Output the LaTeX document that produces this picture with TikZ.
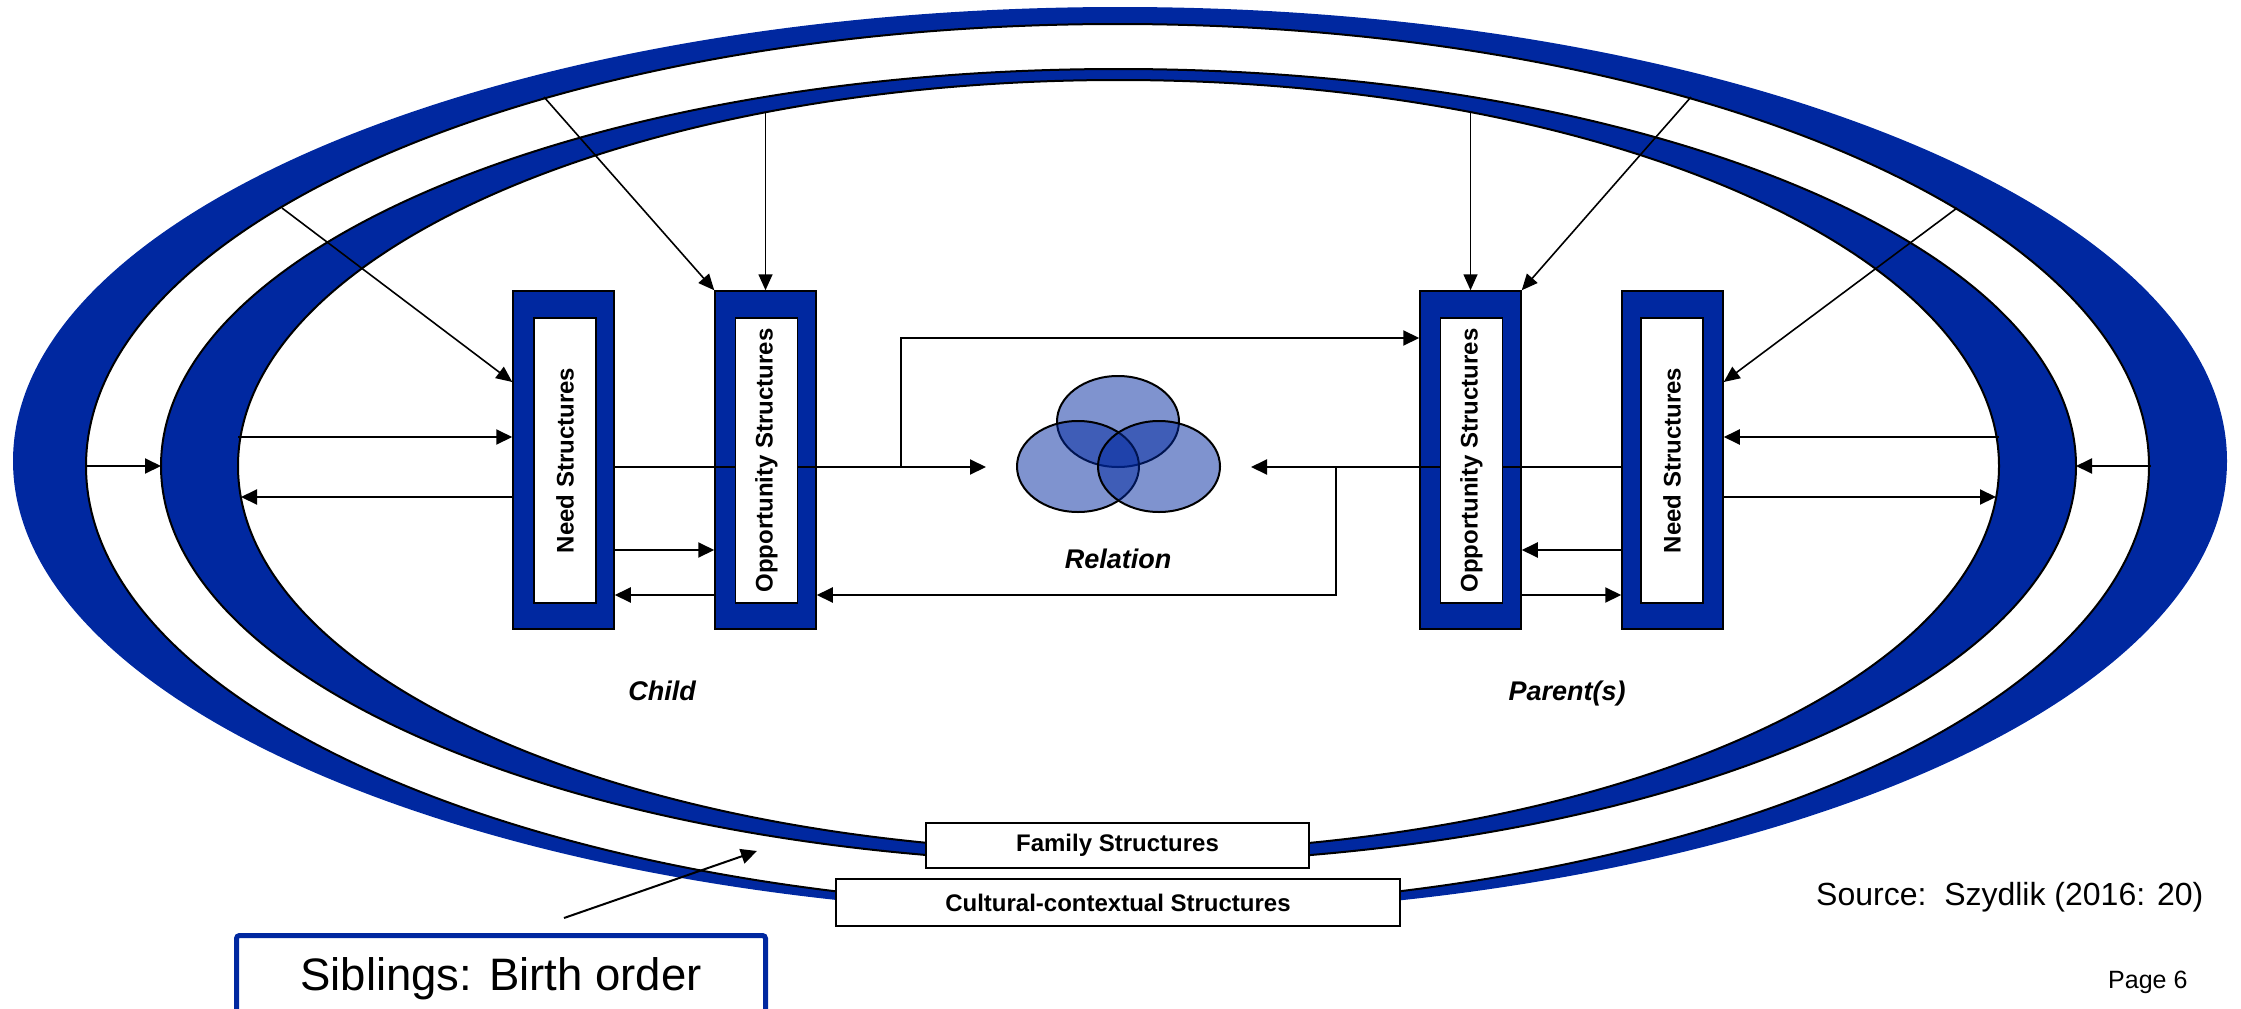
\documentclass[tikz,border=0pt]{standalone}
\usepackage{fontspec}
\setmainfont{Liberation Sans}
\usetikzlibrary{arrows.meta}
\definecolor{ringblue}{RGB}{0,40,160}
\begin{document}
\begin{tikzpicture}[x=1pt,y=-1pt,
  arr/.style={line width=2pt, -{Triangle[length=16pt,width=15pt]}},
  thinarr/.style={line width=1.6pt, -{Triangle[length=16pt,width=14pt]}},
  plainline/.style={line width=2pt},
  ring/.style={fill=ringblue, draw=black, line width=2pt},
  hole/.style={fill=white, draw=black, line width=2pt},
  outerbox/.style={rectangle, fill=ringblue, draw=black, line width=1.5pt, minimum width=101pt, minimum height=338pt, inner sep=0pt},
  innerbox/.style={rectangle, fill=white, draw=black, line width=1.5pt, rotate=90, minimum width=285pt, minimum height=62pt, inner sep=0pt, font=\fontsize{24}{26}\selectfont\bfseries},
  venn/.style={fill=ringblue, fill opacity=0.5, draw=black, draw opacity=1, line width=2pt},
  lbl/.style={font=\fontsize{27}{30}\selectfont\bfseries\itshape, inner sep=0pt, anchor=base},
  capbox/.style={rectangle, fill=white, draw=black, line width=2pt, inner sep=0pt, font=\fontsize{24}{26}\selectfont\bfseries}
]
\useasboundingbox (0,0) rectangle (2241,1009);
\clip (0,0) rectangle (2241,1009);

% rings
\fill[ringblue] (1120,461) ellipse [x radius=1107pt, y radius=454pt];
\draw[hole] (1117.5,466) ellipse [x radius=1031.5pt, y radius=442pt];
\draw[ring] (1118.5,466) ellipse [x radius=957.5pt, y radius=397pt];
\draw[hole] (1118.5,466) ellipse [x radius=880.5pt, y radius=386pt];

% helper coordinates
\coordinate (cultL) at (86,466);
\coordinate (famL) at (161,466);
\coordinate (cultR) at (2151,466);
\coordinate (famR) at (2076,466);
\coordinate (fiL1) at (238,437);
\coordinate (fiL2) at (241,497);
\coordinate (fiR1) at (1999,437);
\coordinate (fiR2) at (1996,497);
\coordinate (d1) at (282,208);
\coordinate (d2) at (544,97);
\coordinate (d3) at (765.5,112);
\coordinate (d4) at (1470.5,112);
\coordinate (d5) at (1691,97);
\coordinate (d6) at (1957,208);
\coordinate (h338) at (0,338);
\coordinate (h382) at (0,382);
\coordinate (h467) at (0,467);
\coordinate (h550) at (0,550);
\coordinate (h595) at (0,595);
\coordinate (relL) at (986,467);
\coordinate (relR) at (1251,467);
\coordinate (br1) at (901,467);
\coordinate (br2) at (1336,467);
\coordinate (sibA) at (564,918);
\coordinate (sibB) at (757,851);

% structure boxes (outer)
\node[outerbox] (cn) at (563.5,460) {};
\node[outerbox] (co) at (765.5,460) {};
\node[outerbox] (po) at (1470.5,460) {};
\node[outerbox] (pn) at (1672.5,460) {};

% ring arrows
\draw[arr] (cultL) -- (famL);
\draw[arr] (cultR) -- (famR);
\draw[arr] (fiL1) -- (cn.west |- fiL1);
\draw[arr] (cn.west |- fiL2) -- (fiL2);
\draw[arr] (fiR1) -- (pn.east |- fiR1);
\draw[arr] (pn.east |- fiR2) -- (fiR2);

% diagonal / vertical arrows
\draw[thinarr] (d1) -- (cn.west |- h382);
\draw[thinarr] (d2) -- (co.north west);
\draw[thinarr] (d3) -- (co.north);
\draw[thinarr] (d4) -- (po.north);
\draw[thinarr] (d5) -- (po.north east);
\draw[thinarr] (d6) -- (pn.east |- h382);

% box-to-box arrows
\draw[arr] (cn.east |- h550) -- (co.west |- h550);
\draw[arr] (co.west |- h595) -- (cn.east |- h595);
\draw[arr] (pn.west |- h550) -- (po.east |- h550);
\draw[arr] (po.east |- h595) -- (pn.west |- h595);

% relation lines
\draw[arr] (cn.east |- h467) -- (relL);
\draw[arr] (pn.west |- h467) -- (relR);
\draw[arr] (br1) |- (po.west |- h338);
\draw[arr] (br2) |- (co.east |- h595);

% inner boxes with text
\node[innerbox] (cni) at (565,460.5) {Need Structures};
\node[innerbox] (coi) at (766.5,460.5) {Opportunity Structures};
\node[innerbox] (poi) at (1471.5,460.5) {Opportunity Structures};
\node[innerbox] (pni) at (1672,460.5) {Need Structures};

% relation venn
\draw[venn] (1118,421.5) ellipse [x radius=61pt, y radius=45.5pt];
\draw[venn] (1078,466.5) ellipse [x radius=61pt, y radius=45.5pt];
\draw[venn] (1159,466.5) ellipse [x radius=61pt, y radius=45.5pt];

% labels
\node[lbl] (rel) at (1118,568) {Relation};
\node[lbl] (child) at (662,700) {Child};
\node[lbl] (par) at (1567,700) {Parent(s)};

% ring captions
\node[capbox, minimum width=383pt, minimum height=45pt] (fam) at (1117.5,845.5) {Family Structures};
\node[capbox, minimum width=564pt, minimum height=47pt] (cult) at (1118,902.5) {Cultural-contextual Structures};

% siblings
\draw[arr] (sibA) -- (sibB);
\node[draw=ringblue, line width=5pt, rounded corners=3pt, fill=white, minimum width=529pt, text height=54.5pt, text depth=30pt, inner ysep=0pt, anchor=base, font=\fontsize{45.5}{50}\selectfont] (sib) at (501,990) {Siblings: Birth order};

% source and page
\node[font=\fontsize{32}{36}\selectfont, anchor=base west, inner sep=0pt] (src) at (1816,905) {Source:\ \ Szydlik (2016: 20)};
\node[font=\fontsize{25}{28}\selectfont, anchor=base west, inner sep=0pt] (page) at (2108,988) {Page 6};
\end{tikzpicture}
\end{document}
